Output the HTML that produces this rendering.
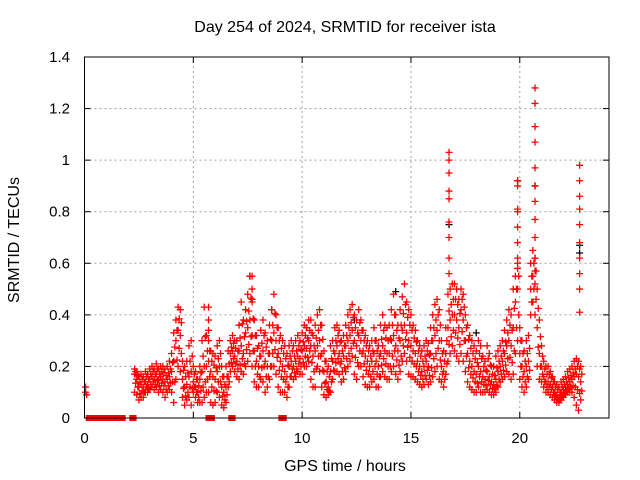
<!DOCTYPE html>
<html><head><meta charset="utf-8"><style>
body{margin:0;background:#fff}
svg{display:block;font-family:"Liberation Sans",sans-serif}
</style></head><body>
<svg id="chart" width="640" height="480" viewBox="0 0 640 480" xmlns="http://www.w3.org/2000/svg">
<rect width="640" height="480" fill="#fff"/>
<g id="grid"></g>
<g id="marks"></g>
<g id="axes"></g>
<text x="345" y="32" font-size="16" text-anchor="middle">Day 254 of 2024, SRMTID for receiver ista</text>
<text x="345" y="471" font-size="16" text-anchor="middle">GPS time / hours</text>
<text x="19" y="240" font-size="16" text-anchor="middle" transform="rotate(-90 19 240)">SRMTID / TECUs</text>
</svg>
<script>
const xTicks=[0,5,10,15,20];
const yTicks=[0,0.2,0.4,0.6,0.8,1,1.2,1.4];
const yTickLabels=["0","0.2","0.4","0.6","0.8","1","1.2","1.4"];
const tStart=2.3, tStep=0.1;
const midVals=[.17,.15,.12,.13,.12,.14,.13,
.15,.16,.15,.17,.15,.16,.15,.14,.15,.16,
.18,.22,.3,.34,.32,.15,.12,.13,.16,.18,
.14,.12,.1,.15,.18,.2,.2,.22,.18,.16,
.15,.18,.2,.12,.1,.12,.16,.25,.26,.24,
.22,.26,.28,.25,.33,.35,.38,.32,.26,.22,
.2,.24,.26,.22,.2,.25,.3,.33,.3,.25,
.22,.2,.18,.16,.2,.22,.2,.22,.24,.23,
.26,.28,.27,.3,.28,.24,.26,.28,.3,.25,
.18,.14,.12,.18,.22,.25,.28,.25,.22,.24,
.28,.3,.32,.34,.3,.28,.32,.3,.26,.24,
.22,.2,.22,.25,.22,.2,.25,.28,.26,.25,
.25,.3,.32,.28,.26,.3,.34,.36,.33,.3,
.28,.26,.25,.22,.2,.18,.2,.22,.2,.25,
.3,.32,.34,.3,.2,.18,.25,.35,.38,.4,
.4,.38,.35,.42,.38,.3,.25,.22,.2,.18,
.17,.2,.18,.16,.15,.18,.16,.14,.13,.15,
.18,.2,.22,.25,.28,.3,.28,.35,.45,.5,
.25,.2,.18,.2,.22,.5,.55,.52,.35,.25,
.2,.16,.14,.14,.13,.12,.1,.09,.08,.1,
.11,.12,.13,.14,.15,.16,.17,.16,.14];
const loVals=[.1,.09,.07,.08,.08,.1,.1,
.11,.12,.11,.12,.1,.11,.1,.08,.1,.11,
.1,.06,.15,.2,.18,.08,.05,.07,.08,.05,
.1,.08,.06,.06,.06,.08,.1,.1,.06,.05,
.06,.1,.08,.05,.04,.06,.12,.18,.2,.18,
.16,.15,.18,.17,.2,.22,.25,.2,.14,.12,
.12,.15,.14,.1,.12,.15,.2,.2,.17,.12,
.1,.1,.1,.08,.12,.16,.15,.16,.18,.17,
.17,.2,.2,.22,.15,.12,.12,.2,.18,.12,
.09,.08,.09,.1,.15,.18,.18,.17,.14,.15,
.18,.2,.22,.24,.17,.15,.2,.2,.16,.13,
.12,.12,.14,.15,.12,.12,.16,.18,.16,.15,
.15,.18,.2,.17,.15,.18,.22,.25,.22,.17,
.16,.16,.15,.14,.13,.12,.13,.15,.13,.14,
.16,.18,.2,.15,.14,.12,.17,.22,.25,.28,
.26,.24,.22,.25,.22,.18,.14,.12,.11,.1,
.1,.12,.1,.1,.1,.11,.1,.09,.09,.1,
.12,.14,.15,.16,.18,.17,.15,.17,.25,.3,
.15,.12,.1,.12,.15,.4,.45,.4,.2,.15,
.14,.12,.1,.1,.09,.08,.07,.06,.06,.07,
.08,.09,.1,.1,.1,.08,.05,.03,.07];
const hiVals=[.19,.18,.16,.17,.16,.18,.17,
.19,.2,.19,.21,.19,.2,.2,.19,.2,.22,
.25,.33,.38,.43,.42,.22,.2,.22,.28,.3,
.2,.18,.15,.2,.3,.43,.32,.3,.26,.25,
.24,.28,.3,.2,.16,.2,.26,.3,.32,.3,
.3,.36,.45,.38,.42,.48,.55,.45,.38,.32,
.28,.34,.38,.33,.3,.36,.42,.48,.4,.35,
.32,.3,.28,.25,.28,.3,.28,.3,.32,.3,
.33,.36,.35,.38,.38,.32,.36,.4,.42,.36,
.26,.22,.2,.28,.3,.35,.36,.34,.3,.32,
.36,.4,.42,.44,.4,.38,.42,.38,.34,.32,
.3,.28,.3,.35,.3,.28,.36,.4,.36,.35,
.36,.42,.48,.4,.36,.42,.47,.52,.45,.42,
.4,.36,.34,.3,.28,.26,.28,.3,.29,.35,
.4,.44,.46,.42,.3,.26,.35,.48,.5,.52,
.52,.5,.46,.5,.48,.4,.36,.32,.3,.28,
.26,.3,.28,.24,.22,.28,.25,.2,.2,.24,
.26,.28,.3,.34,.38,.42,.4,.5,.55,.6,
.35,.3,.26,.3,.32,.6,.65,.62,.5,.38,
.28,.22,.2,.2,.18,.16,.14,.13,.12,.14,
.15,.16,.18,.19,.2,.22,.23,.22,.2];
const spikeT=[0.05,0.05,0.1,16.75,16.75,16.75,16.75,16.75,16.75,16.75,16.75,16.75,19.9,19.9,19.9,19.9,19.9,19.9,19.9,19.9,20.7,20.7,20.7,20.7,20.7,20.7,20.7,20.7,20.7,20.7,20.7,22.75,22.75,22.75,22.75,22.75,22.75,22.75,22.75,22.75,22.75,5.7,5.7,5.7,7.7,7.7,7.7];
const spikeV=[0.12,0.1,0.09,1.03,1.0,0.95,0.88,0.85,0.76,0.7,0.62,0.56,0.92,0.9,0.81,0.8,0.74,0.68,0.62,0.58,1.28,1.22,1.13,1.07,0.97,0.9,0.84,0.77,0.7,0.62,0.57,0.98,0.92,0.86,0.81,0.75,0.68,0.62,0.56,0.5,0.41,0.43,0.38,0.34,0.55,0.5,0.46];
const blackT=[7.6,16.75,19.9,20.7,22.75,22.75,14.3,8.6,18.0,12.4,10.2];
const blackV=[0.55,0.75,0.92,0.9,0.67,0.64,0.49,0.42,0.33,0.38,0.35];
const zeroStart=[0.15,0.45,1.4,2.15,5.65,6.7,9.0];
const zeroEnd=[0.4,1.3,1.8,2.3,5.9,6.85,9.2];

const X0=84.5,X1=609,Y0=418,Y1=57,XMAX=24.1,YMAX=1.4;
const sx=t=>X0+t/XMAX*(X1-X0);
const sy=v=>Y0-v/YMAX*(Y0-Y1);
const NS="http://www.w3.org/2000/svg";
function mk(tag,attrs,parent){const e=document.createElementNS(NS,tag);for(const k in attrs)e.setAttribute(k,attrs[k]);parent.appendChild(e);return e;}
const grid=document.getElementById('grid'),axes=document.getElementById('axes'),marks=document.getElementById('marks');
yTicks.forEach((v,i)=>{
  if(i>0&&i<yTicks.length-1){const g=mk('line',{x1:X0,x2:X1,y1:sy(v),y2:sy(v),stroke:'#a0a0a0','stroke-dasharray':'2,3'},grid);
  
  }
  const t=mk('line',{x1:X0,x2:X0+6,y1:sy(v),y2:sy(v),stroke:'#000'},axes);
  
  
  const t2=mk('line',{x1:X1,x2:X1-6,y1:sy(v),y2:sy(v),stroke:'#000'},axes);
  
  
  const l=mk('text',{x:70,y:sy(v)+5,'font-size':15,'text-anchor':'end'},axes);l.textContent=yTickLabels[i];
  
  
});
xTicks.forEach(t=>{
  if(t>0){const g=mk('line',{x1:sx(t),x2:sx(t),y1:Y0,y2:Y1,stroke:'#a0a0a0','stroke-dasharray':'2,3'},grid);
  
  }
  const k=mk('line',{x1:sx(t),x2:sx(t),y1:Y0,y2:Y0-6,stroke:'#000'},axes);
  
  
  const k2=mk('line',{x1:sx(t),x2:sx(t),y1:Y1,y2:Y1+6,stroke:'#000'},axes);
  
  
  const l=mk('text',{x:sx(t),y:443,'font-size':15,'text-anchor':'middle'},axes);l.textContent=String(t);
  
  
});
const frame=mk('rect',{x:X0,y:Y1,width:X1-X0,height:Y0-Y1,fill:'none',stroke:'#000'},axes);


function plus(t,v,color){
  const x=sx(t),y=sy(v);
  const p=mk('path',{d:`M${x-3.5},${y}H${x+3.5}M${x},${y-3.5}V${y+3.5}`,stroke:color,'stroke-width':1.3,fill:'none'},marks);
  
  
}
blackT.forEach((t,i)=>plus(t,blackV[i],'#000'));
midVals.forEach((v,i)=>{
  const t=tStart+i*tStep;
  plus(t,loVals[i],'#ff0000');
  plus(t+0.05,(loVals[i]+v)/2,'#ff0000');
  plus(t,v,'#ff0000');
  plus(t+0.05,(v+hiVals[i])/2,'#ff0000');
  plus(t,hiVals[i],'#ff0000');
});
spikeT.forEach((t,i)=>plus(t,spikeV[i],'#ff0000'));
zeroStart.forEach((s,i)=>{
  const r=mk('rect',{x:sx(s)-2,y:Y0-3,width:sx(zeroEnd[i])-sx(s)+4,height:6,fill:'#ff0000'},marks);
  
  
});
</script>
</body></html>
